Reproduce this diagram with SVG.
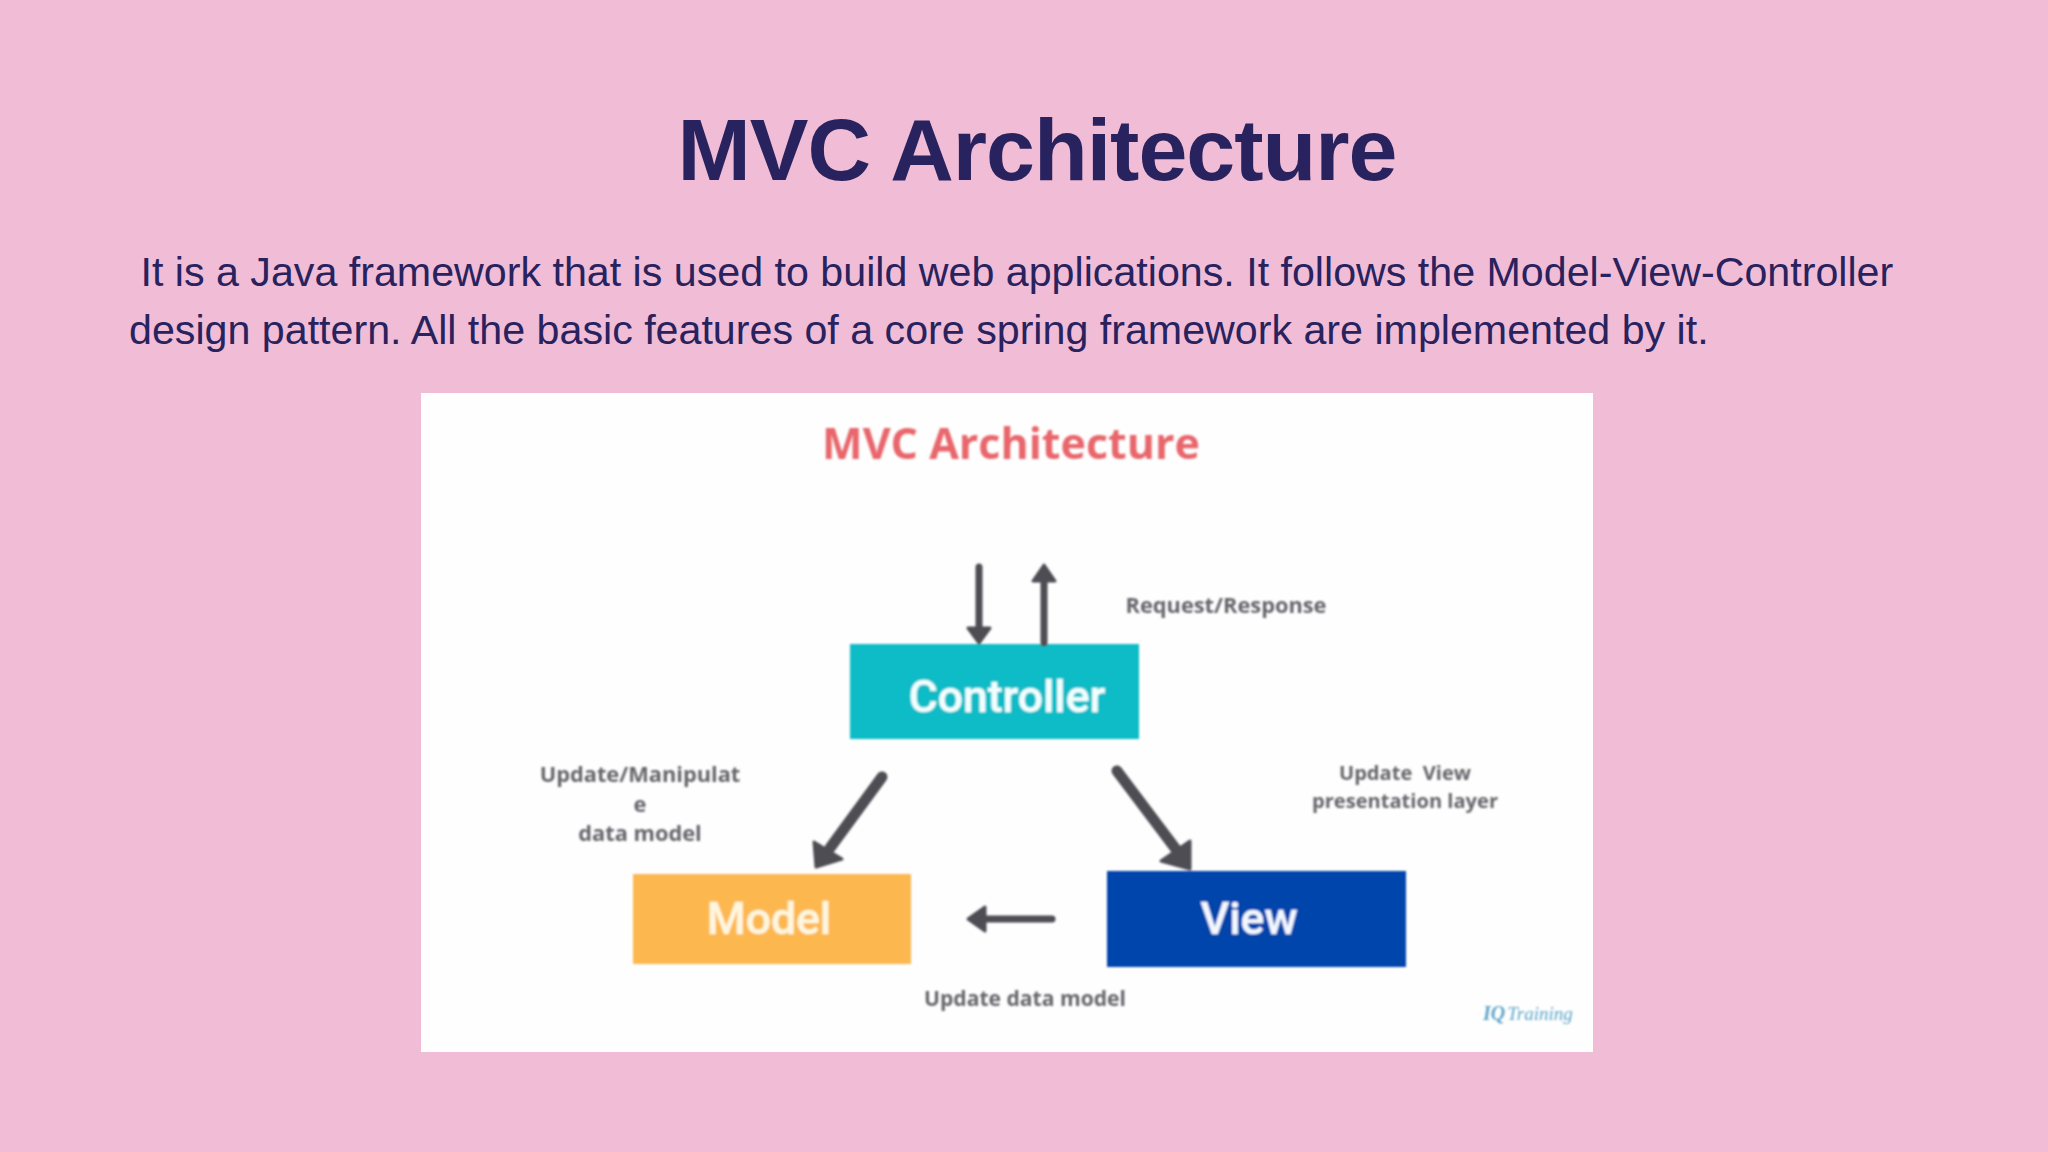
<svg xmlns="http://www.w3.org/2000/svg" width="2048" height="1152" viewBox="0 0 2048 1152">
<style>
.h{font-family:"Liberation Sans",Arial,sans-serif;fill:#28225e}
.l{font-family:"Open Sans",sans-serif;font-weight:700;font-size:21.8px;fill:#65656b;text-anchor:middle}
.b{font-family:Roboto,sans-serif;font-weight:500;font-size:44.5px;text-anchor:middle;stroke-width:.5}
.a{stroke:#4d4d52;fill:none;stroke-linecap:round}
.t{fill:#4d4d52;stroke:#4d4d52;stroke-width:3;stroke-linejoin:round}
</style>
<defs><filter id="soft" x="-5%" y="-5%" width="110%" height="110%"><feGaussianBlur stdDeviation="0.8"/></filter></defs>
<rect width="2048" height="1152" fill="#f0bcd6"/>
<text class="h" x="1037" y="180" font-size="88" font-weight="700" letter-spacing="-1" text-anchor="middle">MVC Architecture</text>
<text class="h" x="129" y="286" font-size="41.2" xml:space="preserve"> It is a Java framework that is used to build web applications. It follows the Model-View-Controller</text>
<text class="h" x="129" y="344" font-size="41.2">design pattern. All the basic features of a core spring framework are implemented by it.</text>
<rect x="421" y="393" width="1172" height="659" fill="#fefefe"/>
<g filter="url(#soft)">
<text x="1011" y="459" font-family="'Open Sans',sans-serif" font-weight="700" font-size="43" fill="#e8666c" text-anchor="middle">MVC Architecture</text>
<g id="controller"><rect x="850" y="644" width="289" height="95" fill="#0cbcc6"/><text class="b" x="1007" y="712" fill="#f2ffff" stroke="#f2ffff">Controller</text></g>
<g id="model"><rect x="633" y="874" width="278" height="90" fill="#fdb750"/><text class="b" x="769" y="934" fill="#fff6df" stroke="#fff6df">Model</text></g>
<g id="view"><rect x="1107" y="871" width="299" height="96" fill="#0344ac"/><text class="b" x="1249" y="934" fill="#f2f8ff" stroke="#f2f8ff">View</text></g>
<g id="connectors">
<path class="a" stroke-width="7" d="M979 567V630"/><path class="t" d="M968 628H990L979 643Z"/>
<path class="a" stroke-width="7" d="M1044 643V580"/><path class="t" d="M1033 581H1055L1044 565Z"/>
<path class="a" stroke-width="11" d="M882 777L830 848"/><path class="t" d="M816 867L814 842L842 859Z"/>
<path class="a" stroke-width="11" d="M1117 771L1178 852"/><path class="t" d="M1190 869L1161 861L1190 841Z"/>
<path class="a" stroke-width="7" d="M1052 919H985"/><path class="t" d="M968 919L985 907V931Z"/>
</g>
<text class="l" x="1226" y="613">Request/Response</text>
<text class="l"><tspan x="640" y="782">Update/Manipulat</tspan><tspan x="640" y="812">e</tspan><tspan x="640" y="841">data model</tspan></text>
<text class="l" xml:space="preserve" style="font-size:20.1px"><tspan x="1405" y="780">Update  View</tspan><tspan x="1405" y="808">presentation layer</tspan></text>
<text class="l" x="1025" y="1006" style="font-size:21.1px">Update data model</text>
<text x="1483" y="1020" font-family="'Liberation Serif',serif" font-style="italic" font-weight="700" font-size="20" fill="#5fa6c8"><tspan>IQ</tspan><tspan font-weight="400" font-size="19" dx="2">Training</tspan></text>
</g>
</svg>
